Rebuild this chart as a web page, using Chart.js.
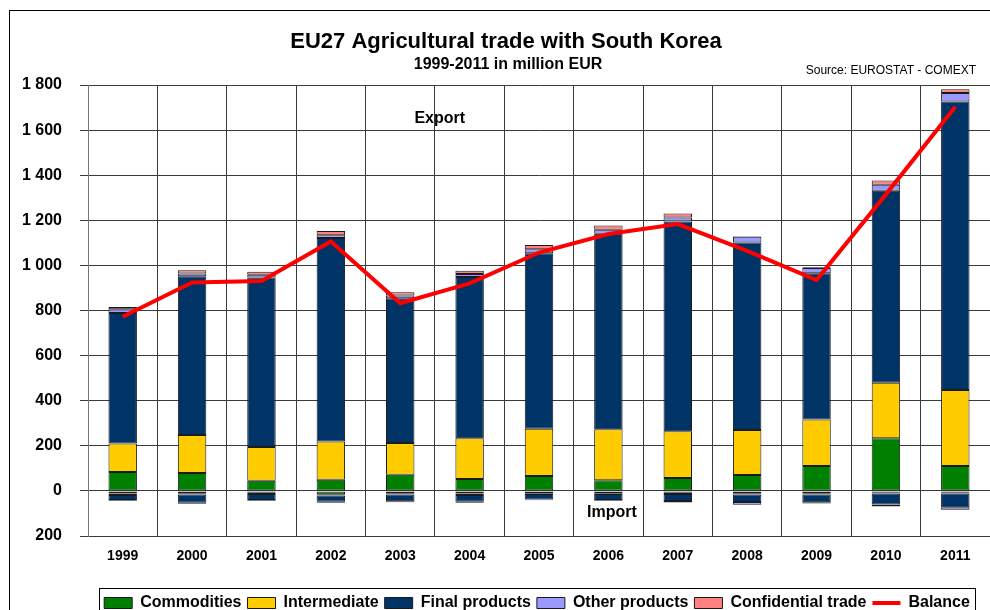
<!DOCTYPE html>
<html>
<head>
  <title>EU27 Agricultural trade with South Korea</title>
  <script src="https://cdn.jsdelivr.net/npm/chart.js"></script>
  <style>
    html, body { margin: 0; background: #fff; overflow: hidden; }
    #frame { position: absolute; left: 9px; top: 10px; width: 1000px; height: 640px; border: 1px solid #000; }
    #c { position: absolute; left: 0; top: 0; }
  </style>
</head>
<body>
<div id="frame"></div>
<canvas id="c" width="990" height="621"></canvas>
<script>
// years on the x axis
const years = ['1999', '2000', '2001', '2002', '2003', '2004', '2005', '2006', '2007', '2008', '2009', '2010', '2011'];

// export (positive) parts, million EUR
const expCommodities = [84, 79, 45, 50, 72, 53, 66, 47, 57, 70, 110, 233, 110];
const expIntermediate = [126, 169, 150, 169, 140, 180, 210, 226, 207, 200, 207, 247, 338];
const expFinal = [579, 704, 751, 902, 642, 716, 778, 867, 931, 831, 648, 851, 1279];
const expOther = [16, 12, 13, 13, 13, 13, 18, 18, 17, 26, 24, 27, 37];
const expConfidential = [10, 15, 13, 18, 14, 14, 18, 19, 18, 2, 3, 18, 17];

// import (negative) parts
const impCommodities = [-12, -10, -8, -15, -10, -12, -10, -10, -8, -10, -10, -8, -8];
const impIntermediate = [-6, -6, -6, -5, -6, -6, -4, -4, -6, -6, -6, -4, -4];
const impFinal = [-22, -36, -26, -28, -30, -30, -24, -26, -31, -33, -34, -48, -60];
const impOther = [-4, -5, -4, -4, -4, -4, -4, -4, -6, -12, -6, -9, -12];

// trade balance
const balance = [772, 924, 931, 1106, 832, 920, 1057, 1139, 1183, 1064, 935, 1315, 1704];

const yTicks = [-200, 0, 200, 400, 600, 800, 1000, 1200, 1400, 1600, 1800];

const colors = {
  commodities: '#008000',
  intermediate: '#FFCC00',
  final: '#003366',
  other: '#9999FF',
  confidential: '#FF8080',
  balance: '#FF0000'
};

const FONT = '"Liberation Sans", Arial, sans-serif';

function bar(label, data, color, isImport) {
  return {
    type: 'bar',
    label: label,
    data: data,
    backgroundColor: color,
    borderColor: '#1a1a1a',
    borderWidth: 1,
    borderSkipped: false,
    stack: 'trade',
    isImport: isImport
  };
}

const datasets = [
  bar('Commodities', expCommodities, colors.commodities, false),
  bar('Intermediate', expIntermediate, colors.intermediate, false),
  bar('Final products', expFinal, colors.final, false),
  bar('Other products', expOther, colors.other, false),
  bar('Confidential trade', expConfidential, colors.confidential, false),
  bar('Commodities', impCommodities, colors.commodities, true),
  bar('Intermediate', impIntermediate, colors.intermediate, true),
  bar('Final products', impFinal, colors.final, true),
  bar('Other products', impOther, colors.other, true),
  {
    type: 'line',
    label: 'Balance',
    data: balance,
    borderColor: colors.balance,
    backgroundColor: colors.balance,
    borderWidth: 4,
    pointRadius: 0,
    tension: 0,
    stack: 'balance',
    order: -1
  }
];

const textPlugin = {
  id: 'texts',
  afterLayout(chart) {
    // the legend sits a little right of centre in the original
    chart.legend.left += 42;
    chart.legend.right += 42;
  },
  afterDraw(chart) {
    const ctx = chart.ctx;
    const x = chart.scales.x, y = chart.scales.y;
    ctx.save();
    ctx.fillStyle = '#000';
    ctx.textAlign = 'center';
    ctx.textBaseline = 'middle';
    ctx.font = 'bold 22px ' + FONT;
    ctx.fillText('EU27 Agricultural trade with South Korea', 506, 42);
    ctx.font = 'bold 16px ' + FONT;
    ctx.fillText('1999-2011 in million EUR', 508, 65);
    ctx.font = '12px ' + FONT;
    ctx.textAlign = 'right';
    ctx.fillText('Source: EUROSTAT - COMEXT', 976, 71);
    ctx.textAlign = 'center';
    ctx.font = 'bold 16px ' + FONT;
    ctx.fillText('Export', x.getPixelForValue(4.57), y.getPixelForValue(1653));
    ctx.fillText('Import', x.getPixelForValue(7.05), y.getPixelForValue(-98));

    // frame round the legend
    const boxes = chart.legend.legendHitBoxes;
    if (boxes && boxes.length) {
      let l = Infinity, r = -Infinity, t = Infinity;
      boxes.forEach(b => { l = Math.min(l, b.left); r = Math.max(r, b.left + b.width); t = Math.min(t, b.top); });
      ctx.strokeStyle = '#000';
      ctx.lineWidth = 1;
      ctx.strokeRect(Math.round(l - 5) + 0.5, Math.round(t - 7) + 0.5, Math.round(r - l + 10), 50);
    }
    ctx.restore();
  }
};

new Chart(document.getElementById('c').getContext('2d'), {
  data: { labels: years, datasets: datasets },
  options: {
    responsive: false,
    animation: false,
    layout: { padding: { top: 85, right: 0, left: 0, bottom: 0 } },
    datasets: { bar: { categoryPercentage: 1, barPercentage: 0.41 } },
    scales: {
      x: {
        stacked: true,
        grid: { color: '#3a3a3a', lineWidth: 1, drawTicks: false, offset: true },
        border: { color: '#3a3a3a' },
        ticks: { color: '#000', padding: 12, font: { family: FONT, size: 14, weight: 'bold' } },
        afterFit(scale) { scale.height = 53; }
      },
      y: {
        stacked: true,
        min: -200,
        max: 1800,
        afterBuildTicks(scale) { scale.ticks = yTicks.map(v => ({ value: v })); },
        grid: { color: '#3a3a3a', lineWidth: 1, tickLength: 8 },
        border: { color: '#777' },
        ticks: {
          color: '#000',
          padding: 18,
          font: { family: FONT, size: 16, weight: 'bold' },
          callback: v => String(Math.abs(v)).replace(/\B(?=(\d{3})+(?!\d))/g, ' ')
        },
        afterFit(scale) { scale.width = 88; }
      }
    },
    plugins: {
      title: { display: false },
      tooltip: { enabled: false },
      legend: {
        position: 'bottom',
        labels: {
          color: '#000',
          padding: 6,
          boxWidth: 28,
          boxHeight: 11,
          usePointStyle: true,
          pointStyleWidth: 28,
          font: { family: FONT, size: 16, weight: 'bold' },
          generateLabels(chart) {
            const items = Chart.defaults.plugins.legend.labels.generateLabels(chart);
            return items
              .filter(it => !chart.data.datasets[it.datasetIndex].isImport)
              .map(it => {
                const ds = chart.data.datasets[it.datasetIndex];
                it.pointStyle = ds.type === 'line' ? 'line' : 'rect';
                it.lineWidth = ds.type === 'line' ? 4 : 1;
                return it;
              })
              .sort((a, b) => a.datasetIndex - b.datasetIndex);
          }
        }
      }
    }
  },
  plugins: [textPlugin]
});
</script>
</body>
</html>
